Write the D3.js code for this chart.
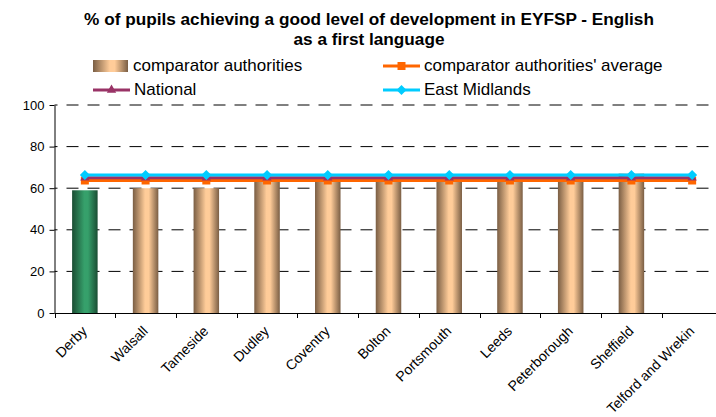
<!DOCTYPE html>
<html>
<head>
<meta charset="utf-8">
<script src="https://cdn.jsdelivr.net/npm/d3@7"></script>
<style>
  html, body { margin: 0; padding: 0; background: #fff; }
  svg { display: block; font-family: Arial, "Liberation Sans", sans-serif; }
</style>
</head>
<body>
<svg id="chart" width="716" height="417"></svg>
<script>
// Local authorities, Derby first (highlighted), then its comparators
const categories = ["Derby", "Walsall", "Tameside", "Dudley", "Coventry", "Bolton",
  "Portsmouth", "Leeds", "Peterborough", "Sheffield", "Telford and Wrekin"];
const highlighted = "Derby";

// % achieving a good level of development (null = no figure published)
const comparatorValues = [59, 60, 60, 63, 63, 64, 64, 65, 65, 67, null];
const comparatorAverage = [63.7, 63.7, 63.7, 63.7, 63.7, 63.7, 63.7, 63.7, 63.7, 63.7, 63.7];
const nationalValues = [65, 65, 65, 65, 65, 65, 65, 65, 65, 65, 65];
const eastMidlandsValues = [66.3, 66.3, 66.3, 66.3, 66.3, 66.3, 66.3, 66.3, 66.3, 66.3, 66.3];

const yTicks = [0, 20, 40, 60, 80, 100];
const titleLines = ["% of pupils achieving a good level of development in EYFSP - English",
  "as a first language"];
const legendLabels = ["comparator authorities", "comparator authorities' average",
  "National", "East Midlands"];

const svg = d3.select("#chart");
const defs = svg.append("defs");

// Cylinder-like shading across each bar
function shade(id, edge, mid) {
  const g = defs.append("linearGradient").attr("id", id)
    .attr("x1", 0).attr("x2", 1).attr("y1", 0).attr("y2", 0);
  g.append("stop").attr("offset", "0%").attr("stop-color", edge);
  g.append("stop").attr("offset", "48%").attr("stop-color", mid);
  g.append("stop").attr("offset", "62%").attr("stop-color", mid);
  g.append("stop").attr("offset", "100%").attr("stop-color", edge);
}
shade("tan", "#7a5e44", "#ffcc99");
shade("green", "#1a4d33", "#36a06b");

const plot = { left: 54.5, right: 722.5, top: 105, bottom: 313 };

const x = d3.scaleBand().domain(categories)
  .range([plot.left, plot.right])
  .paddingInner(0.58).paddingOuter(0.29);
const y = d3.scaleLinear().domain([0, 100]).range([plot.bottom, plot.top]);
const cx = c => x(c) + x.bandwidth() / 2;

// Title
svg.append("g").selectAll("text").data(titleLines).join("text")
  .attr("x", 369).attr("y", (d, i) => 25 + i * 20)
  .attr("text-anchor", "middle")
  .attr("font-size", 17.2).attr("font-weight", "bold").attr("fill", "#000")
  .text(d => d);

// Gridlines
svg.append("g").selectAll("line").data(yTicks.filter(t => t > 0)).join("line")
  .attr("x1", plot.left).attr("x2", 716)
  .attr("y1", d => y(d)).attr("y2", d => y(d))
  .attr("stroke", "#000").attr("stroke-width", 1)
  .attr("stroke-dasharray", "12,9").attr("stroke-dashoffset", 9);

// Bars
svg.append("g").selectAll("rect")
  .data(categories.map((c, i) => ({ c, v: comparatorValues[i] })).filter(d => d.v != null))
  .join("rect")
  .attr("x", d => x(d.c)).attr("width", x.bandwidth())
  .attr("y", d => y(d.v)).attr("height", d => y(0) - y(d.v))
  .attr("fill", d => d.c === highlighted ? "url(#green)" : "url(#tan)");

// Y axis
const yAxis = svg.append("g").attr("transform", `translate(${plot.left},0)`)
  .call(d3.axisLeft(y).tickValues(yTicks).tickSizeInner(5).tickSizeOuter(0).tickPadding(5));
yAxis.select(".domain").attr("stroke", "#000");
yAxis.selectAll(".tick line").attr("stroke", "#000");
yAxis.selectAll(".tick text").attr("font-size", 13).attr("fill", "#000")
  .attr("font-family", "Arial, 'Liberation Sans', sans-serif");

// X axis with ticks between categories
const xAxis = svg.append("g");
xAxis.append("line")
  .attr("x1", plot.left).attr("x2", plot.right)
  .attr("y1", y(0) + 0.5).attr("y2", y(0) + 0.5).attr("stroke", "#000");
xAxis.selectAll("line.tk").data(categories).join("line").attr("class", "tk")
  .attr("x1", d => Math.round(cx(d) - x.step() / 2) + 0.5)
  .attr("x2", d => Math.round(cx(d) - x.step() / 2) + 0.5)
  .attr("y1", y(0)).attr("y2", y(0) + 5).attr("stroke", "#000");
xAxis.selectAll("text").data(categories).join("text")
  .attr("transform", d => `translate(${cx(d) + 3},${y(0) + 19}) rotate(-45)`)
  .attr("text-anchor", "end").attr("font-size", 14).attr("fill", "#000")
  .text(d => d);

// Reference lines with markers
const series = [
  { name: legendLabels[1], values: comparatorAverage, color: "#ff6600", marker: "square" },
  { name: legendLabels[2], values: nationalValues, color: "#993366", marker: "triangle" },
  { name: legendLabels[3], values: eastMidlandsValues, color: "#00ccff", marker: "diamond" }
];
const markerPath = {
  square: d3.symbol(d3.symbolSquare, 64)(),
  triangle: d3.symbol(d3.symbolTriangle, 38)(),
  diamond: "M0,-5L5,0L0,5L-5,0Z"
};
const line = d3.line().x((d, i) => cx(categories[i])).y(d => y(d));

series.forEach(s => {
  const g = svg.append("g");
  g.append("path").attr("d", line(s.values))
    .attr("fill", "none").attr("stroke", s.color).attr("stroke-width", 3);
  g.selectAll("path.m").data(s.values).join("path").attr("class", "m")
    .attr("transform", (d, i) => `translate(${cx(categories[i])},${y(d)})`)
    .attr("d", markerPath[s.marker]).attr("fill", s.color);
});

// Legend
const legend = svg.append("g").attr("font-size", 17).attr("fill", "#000");
const legendItems = [
  { label: legendLabels[0], x: 93, y: 71, kind: "bar" },
  { label: legendLabels[1], x: 383, y: 71, kind: "line", s: series[0] },
  { label: legendLabels[2], x: 93, y: 95, kind: "line", s: series[1] },
  { label: legendLabels[3], x: 383, y: 95, kind: "line", s: series[2] }
];
legendItems.forEach(it => {
  const g = legend.append("g");
  if (it.kind === "bar") {
    g.append("rect").attr("x", it.x).attr("y", it.y - 11).attr("width", 35).attr("height", 12)
      .attr("fill", "url(#tan)");
  } else {
    g.append("line").attr("x1", it.x).attr("x2", it.x + 37)
      .attr("y1", it.y - 5).attr("y2", it.y - 5)
      .attr("stroke", it.s.color).attr("stroke-width", 3);
    g.append("path").attr("transform", `translate(${it.x + 18.5},${it.y - 5})`)
      .attr("d", markerPath[it.s.marker]).attr("fill", it.s.color);
  }
  g.append("text").attr("x", it.x + (it.kind === "bar" ? 40 : 41)).attr("y", it.y).text(it.label);
});
</script>
</body>
</html>
